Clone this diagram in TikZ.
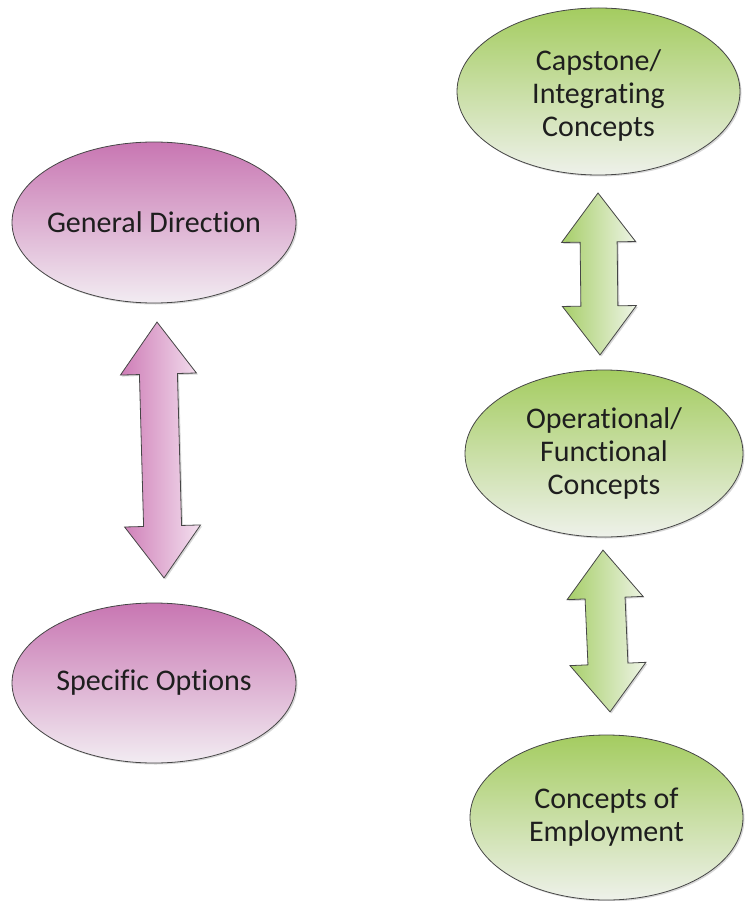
\documentclass[tikz,border=0pt]{standalone}
\usepackage{fontspec}
\setmainfont{Carlito}[Ligatures=NoCommon]
\usetikzlibrary{shapes.geometric,shadows}

\definecolor{edge}{RGB}{70,70,70}
\definecolor{ink}{RGB}{30,30,30}
\definecolor{pinkTop}{RGB}{200,118,178}
\definecolor{pinkBot}{RGB}{242,236,242}
\definecolor{greenTop}{RGB}{164,204,96}
\definecolor{greenBot}{RGB}{238,241,234}
\definecolor{pinkArrL}{RGB}{206,124,182}
\definecolor{pinkArrR}{RGB}{243,224,239}
\definecolor{greenArrL}{RGB}{166,206,104}
\definecolor{greenArrR}{RGB}{238,244,230}

% Block double arrow: #1 style, #2 centre, #3 angle, #4 half length,
% #5 head length, #6 head half-width, #7 shaft half-width
\newcommand\blockarrow[7]{%
  \path[#1, shift={#2}, rotate=#3]
    (0,-#4) -- (#6,{-#4+#5}) -- (#7,{-#4+#5}) -- (#7,{#4-#5}) -- (#6,{#4-#5})
    -- (0,#4) -- (-#6,{#4-#5}) -- (-#7,{#4-#5}) -- (-#7,{-#4+#5})
    -- (-#6,{-#4+#5}) -- cycle;}

\begin{document}
\begin{tikzpicture}[x=1pt,y=-1pt,
  softshadow/.style={drop shadow={shadow xshift=1.5pt, shadow yshift=-1.5pt,
      fill=black!35, opacity=0.45}},
  ell/.style={ellipse, draw=edge, line width=0.8pt, inner sep=0pt, softshadow},
  pinkell/.style={ell, top color=pinkTop, bottom color=pinkBot},
  greenell/.style={ell, top color=greenTop, bottom color=greenBot},
  lbl/.style={font=\fontsize{30}{33}\selectfont, text=ink, align=center, inner sep=0pt},
  arr/.style={draw=edge, line width=0.8pt, line join=miter, softshadow},
  pinkarr/.style={arr, left color=pinkArrL, right color=pinkArrR},
  greenarr/.style={arr, left color=greenArrL, right color=greenArrR}]

\useasboundingbox (0,0) rectangle (744,901);

% left column
\node[pinkell, minimum width=284pt, minimum height=161pt] (gd) at (154,222.5) {};
\node[lbl] (gdt) at (gd.center) {General Direction};
\node[pinkell, minimum width=284pt, minimum height=160pt] (so) at (154,683) {};
\node[lbl] (sot) at (so.center) {Specific Options};
\coordinate (la) at (160.5,450);
\blockarrow{pinkarr}{(la)}{1.57}{128}{52}{38}{19}

% right column
\node[greenell, minimum width=283pt, minimum height=167pt] (cap) at (598.5,91.5) {};
\node[lbl] (capt) at ([yshift=-4pt]cap.center) {Capstone/\\Integrating\\Concepts};
\node[greenell, minimum width=278pt, minimum height=167pt] (op) at (604,453.5) {};
\node[lbl] (opt) at (op.center) {Operational/\\Functional\\Concepts};
\node[greenell, minimum width=273pt, minimum height=165pt] (emp) at (606.5,817.5) {};
\node[lbl] (empt) at (emp.center) {Concepts of\\Employment};
\coordinate (ra1) at (599,274);
\coordinate (ra2) at (606.5,631);
\blockarrow{greenarr}{(ra1)}{0.7}{81}{49}{37}{18.5}
\blockarrow{greenarr}{(ra2)}{2.5}{81}{48}{38}{20}

\end{tikzpicture}
\end{document}
